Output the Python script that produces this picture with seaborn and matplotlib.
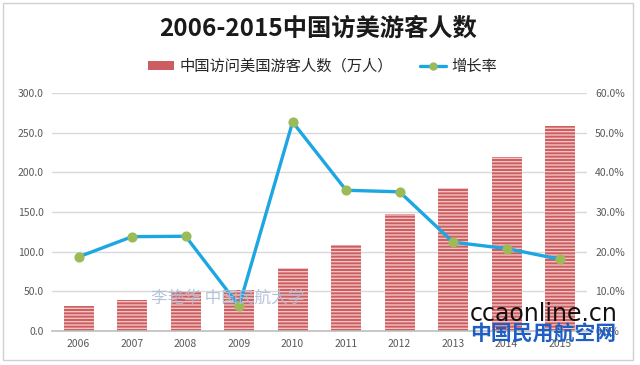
import numpy as np
import pandas as pd
import matplotlib.pyplot as plt
import matplotlib.patches as mpatches
import matplotlib.lines as mlines
from matplotlib.ticker import FuncFormatter
import seaborn as sns

# data
years = ['2006', '2007', '2008', '2009', '2010', '2011', '2012', '2013', '2014', '2015']
visitors = [31, 39, 49, 52, 80, 108, 147, 180, 219, 259]      # 万人
growth = [18.7, 23.8, 23.9, 6.3, 52.7, 35.5, 35.1, 22.4, 20.8, 18.1]  # %

df = pd.DataFrame({'year': years, 'visitors': visitors, 'growth': growth})

sns.set_style('white')
plt.rcParams['font.family'] = ['Noto Sans CJK SC', 'DejaVu Sans']
plt.rcParams['hatch.linewidth'] = 1.0

fig = plt.figure(figsize=(6.4, 3.65), dpi=100)
ax = fig.add_axes([0.081, 0.093, 0.836, 0.652])

bar_c = '#cc5d60'
stripe_c = '#f2c4c4'
sns.barplot(data=df, x='year', y='visitors', color=bar_c, width=0.56,
            saturation=1, ax=ax)
for p in ax.patches:
    p.set_edgecolor(stripe_c)
    p.set_linewidth(0)
    p.set_hatch('-----')

ax.set_ylim(0, 300)
ax.set_yticks(np.arange(0, 301, 50))
ax.yaxis.set_major_formatter(FuncFormatter(lambda v, p: f'{v:.1f}'))
ax.grid(axis='y', color='#d9d9d9', lw=1)
ax.set_axisbelow(True)
for s in ['top', 'right', 'left']:
    ax.spines[s].set_visible(False)
ax.spines['bottom'].set_color('#bfbfbf')
ax.spines['bottom'].set_linewidth(1.2)
ax.set_xlabel('')
ax.set_ylabel('')
ax.tick_params(axis='both', length=0, labelsize=7.5, colors='#595959', pad=6)

ax2 = ax.twinx()
sns.pointplot(data=df, x='year', y='growth', color='#1ca6e2', markers='o',
              linewidth=2.4, markersize=5.5, ax=ax2)
for ln in ax2.lines:
    ln.set_markerfacecolor('#9bbb59')
    ln.set_markeredgecolor('#9bbb59')
ax2.set_ylim(0, 60)
ax2.set_yticks(np.arange(0, 61, 10))
ax2.yaxis.set_major_formatter(FuncFormatter(lambda v, p: f'{v:.1f}%'))
for s in ax2.spines.values():
    s.set_visible(False)
ax2.set_ylabel('')
ax2.tick_params(axis='y', length=0, labelsize=7.5, colors='#595959', pad=6)
ax.set_xlim(-0.5, len(years) - 0.5)

fig.text(0.497, 0.922, '2006-2015中国访美游客人数', ha='center', va='center',
         fontsize=17.5, fontweight='bold', color='#1a1a1a')

h1 = mpatches.Patch(facecolor=bar_c, edgecolor=stripe_c, lw=0)
h2 = mlines.Line2D([], [], color='#1ca6e2', lw=2.4, marker='o', markersize=5,
                   markerfacecolor='#9bbb59', markeredgecolor='#9bbb59')
fig.legend([h1, h2], ['中国访问美国游客人数（万人）', '增长率'], loc='center',
           bbox_to_anchor=(0.504, 0.818), ncol=2, frameon=False, fontsize=11,
           handlelength=1.7, handleheight=0.6, columnspacing=1.8,
           handletextpad=0.35)

# watermarks
fig.text(0.355, 0.183, '李艳华 中国民航大学', ha='center', va='center',
         fontsize=12, color='#aebed4', alpha=0.9)
fig.text(0.849, 0.14, 'ccaonline.cn', ha='center', va='center',
         fontsize=17, color='#111111', family='DejaVu Sans')
fig.text(0.849, 0.085, '中国民用航空网', ha='center', va='center',
         fontsize=15, color='#1f5fc4', fontweight='bold')

fig.patches.append(mpatches.Rectangle((0.005, 0.014), 0.984, 0.978,
                                      transform=fig.transFigure, fill=False,
                                      edgecolor='#d0d0d0', lw=1))

fig.savefig('out.png', dpi=100)
